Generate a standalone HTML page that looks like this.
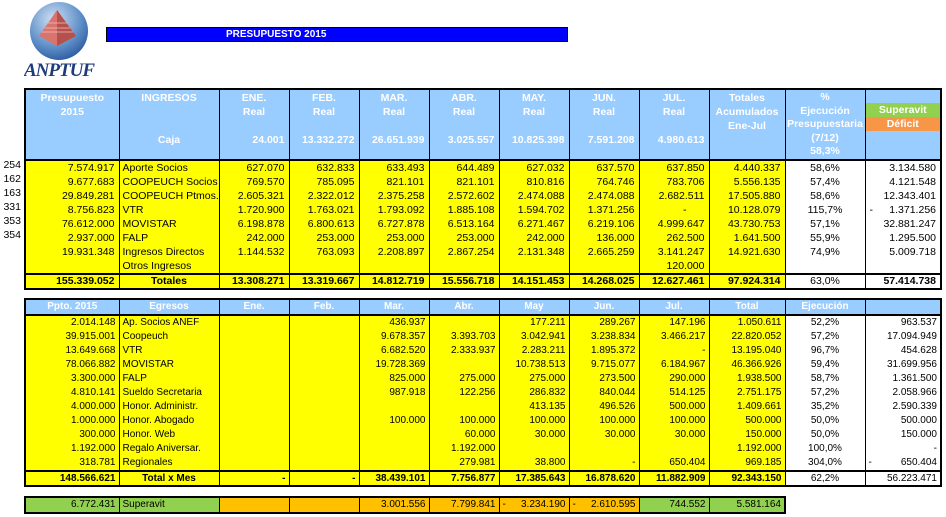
<!DOCTYPE html>
<html><head><meta charset="utf-8">
<style>
body{margin:0;background:#fff;width:946px;height:517px;position:relative;overflow:hidden;font-family:"Liberation Sans",sans-serif;}
table{position:absolute;border-collapse:collapse;table-layout:fixed;font-size:10.5px;color:#000;}
td{border-left:1px solid #000;border-right:1px solid #000;padding:0 4px;height:14px;line-height:14px;white-space:nowrap;overflow:hidden;text-align:right;}
.y td{background:#ffff00;}
.y td.w{background:#fff;}
td.c{text-align:center}
td.l{text-align:left;padding-left:3px}
.hd td{background:#99ccff;color:#fff;font-weight:bold;vertical-align:top;padding:0 4px;line-height:14px;}
.tot td{border-top:2px solid #000;font-weight:bold;height:13px;line-height:13px}
.tot td.w{font-weight:normal}
.ln{height:14px}
.bt{font-size:10px;}
.bt td{padding:0 3px}
.nums{position:absolute;left:0;width:21px;text-align:right;font-size:10.5px;line-height:14.1px}
.d{float:left}
</style></head><body>

<!-- logo -->
<svg style="position:absolute;left:24px;top:0" width="72" height="82" viewBox="0 0 72 82">
<defs><radialGradient id="g" cx="0.4" cy="0.3" r="0.8"><stop offset="0" stop-color="#cfe0f4"/><stop offset="0.6" stop-color="#5f8fc8"/><stop offset="1" stop-color="#1f4f96"/></radialGradient></defs>
<circle cx="35" cy="31" r="29" fill="url(#g)"/>
<polygon points="33,10 15,36 33,46 52,36" fill="#d9736e"/>
<polygon points="33,10 33,46 52,36" fill="#b5504d"/>
<g stroke="#f3c0b8" stroke-width="0.8"><line x1="24" y1="23" x2="43" y2="23"/><line x1="21" y1="28" x2="46" y2="28"/><line x1="18" y1="32" x2="49" y2="32"/></g>
<text x="35" y="76" text-anchor="middle" font-family="Liberation Serif" font-style="italic" font-weight="bold" font-size="19" fill="#1f3c7a" letter-spacing="-1">ANPTUF</text>
</svg>

<div style="position:absolute;left:106px;top:27px;width:460px;height:13px;background:#0000ff;border:1px solid #000;color:#fff;font-weight:bold;font-size:10px;line-height:13px;"><span style="position:absolute;left:119px">PRESUPUESTO 2015</span></div>

<div class="nums" style="top:158px">254<br>162<br>163<br>331<br>353<br>354</div>

<table style="left:24px;top:88px;width:916px;border:2px solid #000">
<colgroup><col style="width:94px"><col style="width:100px"><col style="width:70px"><col style="width:70px"><col style="width:70px"><col style="width:70px"><col style="width:70px"><col style="width:70px"><col style="width:70px"><col style="width:76px"><col style="width:80px"><col style="width:76px"></colgroup>
<tr class="hd" style="height:70px">
<td style="text-align:center;padding-top:1px">Presupuesto<br>2015</td>
<td style="text-align:center;padding-top:1px">INGRESOS<br><br><br>Caja</td>
<td style="padding-top:1px"><div style="text-align:center">ENE.<br>Real<br><br></div>24.001</td>
<td style="padding-top:1px"><div style="text-align:center">FEB.<br>Real<br><br></div>13.332.272</td>
<td style="padding-top:1px"><div style="text-align:center">MAR.<br>Real<br><br></div>26.651.939</td>
<td style="padding-top:1px"><div style="text-align:center">ABR.<br>Real<br><br></div>3.025.557</td>
<td style="padding-top:1px"><div style="text-align:center">MAY.<br>Real<br><br></div>10.825.398</td>
<td style="padding-top:1px"><div style="text-align:center">JUN.<br>Real<br><br></div>7.591.208</td>
<td style="padding-top:1px"><div style="text-align:center">JUL.<br>Real<br><br></div>4.980.613</td>
<td style="text-align:center;padding-top:1px">Totales<br>Acumulados<br>Ene-Jul</td>
<td style="text-align:center;padding:1px 0 0;line-height:13.6px">%<br>Ejecución<br>Presupuestaria<br>(7/12)<br>58,3%</td>
<td style="padding:0;text-align:center"><div style="height:13px"></div><div style="background:#92d050;height:14px">Superavit</div><div style="background:#f79646;height:14px">Déficit</div></td>
</tr>
<tr class="y" style="border-top:2px solid #000"><td>7.574.917</td><td class="l">Aporte Socios</td><td>627.070</td><td>632.833</td><td>633.493</td><td>644.489</td><td>627.032</td><td>637.570</td><td>637.850</td><td>4.440.337</td><td class="w c">58,6%</td><td class="w">3.134.580</td></tr>
<tr class="y"><td>9.677.683</td><td class="l">COOPEUCH Socios</td><td>769.570</td><td>785.095</td><td>821.101</td><td>821.101</td><td>810.816</td><td>764.746</td><td>783.706</td><td>5.556.135</td><td class="w c">57,4%</td><td class="w">4.121.548</td></tr>
<tr class="y"><td>29.849.281</td><td class="l">COOPEUCH Ptmos.</td><td>2.605.321</td><td>2.322.012</td><td>2.375.258</td><td>2.572.602</td><td>2.474.088</td><td>2.474.088</td><td>2.682.511</td><td>17.505.880</td><td class="w c">58,6%</td><td class="w">12.343.401</td></tr>
<tr class="y"><td>8.756.823</td><td class="l">VTR</td><td>1.720.900</td><td>1.763.021</td><td>1.793.092</td><td>1.885.108</td><td>1.594.702</td><td>1.371.256</td><td style="padding-right:22px">-</td><td>10.128.079</td><td class="w c">115,7%</td><td class="w"><span class="d">-</span>1.371.256</td></tr>
<tr class="y"><td>76.612.000</td><td class="l">MOVISTAR</td><td>6.198.878</td><td>6.800.613</td><td>6.727.878</td><td>6.513.164</td><td>6.271.467</td><td>6.219.106</td><td>4.999.647</td><td>43.730.753</td><td class="w c">57,1%</td><td class="w">32.881.247</td></tr>
<tr class="y"><td>2.937.000</td><td class="l">FALP</td><td>242.000</td><td>253.000</td><td>253.000</td><td>253.000</td><td>242.000</td><td>136.000</td><td>262.500</td><td>1.641.500</td><td class="w c">55,9%</td><td class="w">1.295.500</td></tr>
<tr class="y"><td>19.931.348</td><td class="l">Ingresos Directos</td><td>1.144.532</td><td>763.093</td><td>2.208.897</td><td>2.867.254</td><td>2.131.348</td><td>2.665.259</td><td>3.141.247</td><td>14.921.630</td><td class="w c">74,9%</td><td class="w">5.009.718</td></tr>
<tr class="y"><td></td><td class="l">Otros Ingresos</td><td></td><td></td><td></td><td></td><td></td><td></td><td>120.000</td><td></td><td class="w"></td><td class="w"></td></tr>
<tr class="y tot"><td>155.339.052</td><td class="c">Totales</td><td>13.308.271</td><td>13.319.667</td><td>14.812.719</td><td>15.556.718</td><td>14.151.453</td><td>14.268.025</td><td>12.627.461</td><td>97.924.314</td><td class="w c">63,0%</td><td class="w" style="font-weight:bold">57.414.738</td></tr>
</table>

<table class="bt" style="left:24px;top:298px;width:916px;border:2px solid #000">
<colgroup><col style="width:94px"><col style="width:100px"><col style="width:70px"><col style="width:70px"><col style="width:70px"><col style="width:70px"><col style="width:70px"><col style="width:70px"><col style="width:70px"><col style="width:76px"><col style="width:80px"><col style="width:76px"></colgroup>
<tr class="hd"><td class="c">Ppto. 2015</td><td class="c">Egresos</td><td class="c">Ene.</td><td class="c">Feb.</td><td class="c">Mar.</td><td class="c">Abr.</td><td class="c">May</td><td class="c">Jun.</td><td class="c">Jul.</td><td class="c">Total</td><td class="c">Ejecución</td><td></td></tr>
<tr class="y" style="border-top:2px solid #000"><td>2.014.148</td><td class="l">Ap. Socios ANEF</td><td></td><td></td><td>436.937</td><td></td><td>177.211</td><td>289.267</td><td>147.196</td><td>1.050.611</td><td class="w c">52,2%</td><td class="w">963.537</td></tr>
<tr class="y"><td>39.915.001</td><td class="l">Coopeuch</td><td></td><td></td><td>9.678.357</td><td>3.393.703</td><td>3.042.941</td><td>3.238.834</td><td>3.466.217</td><td>22.820.052</td><td class="w c">57,2%</td><td class="w">17.094.949</td></tr>
<tr class="y"><td>13.649.668</td><td class="l">VTR</td><td></td><td></td><td>6.682.520</td><td>2.333.937</td><td>2.283.211</td><td>1.895.372</td><td>-</td><td>13.195.040</td><td class="w c">96,7%</td><td class="w">454.628</td></tr>
<tr class="y"><td>78.066.882</td><td class="l">MOVISTAR</td><td></td><td></td><td>19.728.369</td><td></td><td>10.738.513</td><td>9.715.077</td><td>6.184.967</td><td>46.366.926</td><td class="w c">59,4%</td><td class="w">31.699.956</td></tr>
<tr class="y"><td>3.300.000</td><td class="l">FALP</td><td></td><td></td><td>825.000</td><td>275.000</td><td>275.000</td><td>273.500</td><td>290.000</td><td>1.938.500</td><td class="w c">58,7%</td><td class="w">1.361.500</td></tr>
<tr class="y"><td>4.810.141</td><td class="l">Sueldo Secretaria</td><td></td><td></td><td>987.918</td><td>122.256</td><td>286.832</td><td>840.044</td><td>514.125</td><td>2.751.175</td><td class="w c">57,2%</td><td class="w">2.058.966</td></tr>
<tr class="y"><td>4.000.000</td><td class="l">Honor. Administr.</td><td></td><td></td><td></td><td></td><td>413.135</td><td>496.526</td><td>500.000</td><td>1.409.661</td><td class="w c">35,2%</td><td class="w">2.590.339</td></tr>
<tr class="y"><td>1.000.000</td><td class="l">Honor. Abogado</td><td></td><td></td><td>100.000</td><td>100.000</td><td>100.000</td><td>100.000</td><td>100.000</td><td>500.000</td><td class="w c">50,0%</td><td class="w">500.000</td></tr>
<tr class="y"><td>300.000</td><td class="l">Honor. Web</td><td></td><td></td><td></td><td>60.000</td><td>30.000</td><td>30.000</td><td>30.000</td><td>150.000</td><td class="w c">50,0%</td><td class="w">150.000</td></tr>
<tr class="y"><td>1.192.000</td><td class="l">Regalo Aniversar.</td><td></td><td></td><td></td><td>1.192.000</td><td></td><td></td><td></td><td>1.192.000</td><td class="w c">100,0%</td><td class="w">-</td></tr>
<tr class="y"><td>318.781</td><td class="l">Regionales</td><td></td><td></td><td></td><td>279.981</td><td>38.800</td><td>-</td><td>650.404</td><td>969.185</td><td class="w c">304,0%</td><td class="w"><span class="d">-</span>650.404</td></tr>
<tr class="y tot"><td>148.566.621</td><td class="c">Total x Mes</td><td>-</td><td>-</td><td>38.439.101</td><td>7.756.877</td><td>17.385.643</td><td>16.878.620</td><td>11.882.909</td><td>92.343.150</td><td class="w c">62,2%</td><td class="w">56.223.471</td></tr>
</table>

<table class="bt" style="left:24px;top:496px;width:762px;border:2px solid #000">
<colgroup><col style="width:94px"><col style="width:100px"><col style="width:70px"><col style="width:70px"><col style="width:70px"><col style="width:70px"><col style="width:70px"><col style="width:70px"><col style="width:70px"><col style="width:76px"></colgroup>
<tr><td style="background:#92d050">6.772.431</td><td class="l" style="background:#92d050">Superavit</td><td style="background:#ffc000"></td><td style="background:#ffc000"></td><td style="background:#ffc000">3.001.556</td><td style="background:#ffc000">7.799.841</td><td style="background:#ffc000"><span class="d">-</span>3.234.190</td><td style="background:#ffc000"><span class="d">-</span>2.610.595</td><td style="background:#92d050">744.552</td><td style="background:#92d050">5.581.164</td></tr>
</table>

</body></html>
